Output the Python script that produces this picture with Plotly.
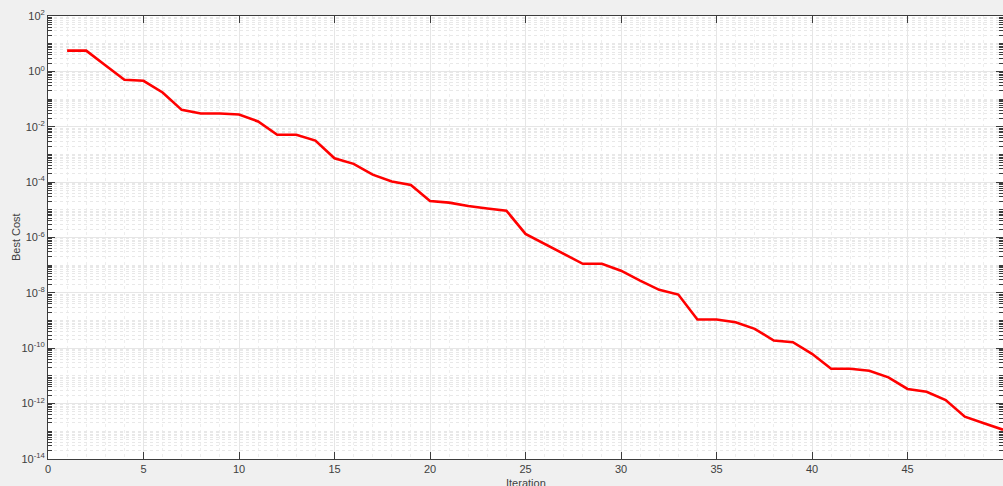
import plotly.graph_objects as go

iterations = list(range(1, 51))
log_best_cost = [
    0.75, 0.75, 0.22, -0.30, -0.34, -0.76, -1.39, -1.52, -1.52, -1.56,
    -1.81, -2.29, -2.29, -2.50, -3.14, -3.34, -3.73, -3.98, -4.10, -4.68,
    -4.74, -4.86, -4.95, -5.03, -5.87, -6.23, -6.56, -6.95, -6.95, -7.20,
    -7.56, -7.89, -8.06, -8.96, -8.96, -9.06, -9.30, -9.72, -9.78, -10.20,
    -10.74, -10.74, -10.81, -11.05, -11.47, -11.57, -11.87, -12.47, -12.71, -12.94,
]
best_cost = [10 ** v for v in log_best_cost]

x_tick_vals = [0, 5, 10, 15, 20, 25, 30, 35, 40, 45]
y_tick_exps = [2, 0, -2, -4, -6, -8, -10, -12, -14]

axis_color = "#3c3c3c"
font = dict(family="Liberation Sans, Arial, sans-serif", size=11, color="#404040")

fig = go.Figure()
fig.add_trace(go.Scatter(
    x=iterations, y=best_cost, mode="lines",
    line=dict(color="#ff0000", width=2.6),
    showlegend=False,
))

fig.update_layout(
    width=1003, height=486,
    margin=dict(l=48, r=0, t=16, b=27),
    paper_bgcolor="#f0f0f0",
    plot_bgcolor="#ffffff",
    font=font,
    xaxis=dict(
        range=[0, 50],
        tickvals=x_tick_vals,
        ticktext=[str(v) for v in x_tick_vals],
        ticks="inside", ticklen=7, tickcolor=axis_color,
        showline=True, linecolor=axis_color, linewidth=1, mirror="ticks",
        showgrid=True, gridcolor="#e6e6e6", gridwidth=1,
        minor=dict(dtick=1, showgrid=True, gridcolor="#eeeeee", griddash="dot"),
        zeroline=False,
        tickfont=font,
    ),
    yaxis=dict(
        type="log",
        range=[-14, 2],
        tickvals=[10 ** e for e in y_tick_exps],
        ticktext=["10<sup>%s</sup>" % (str(e) if e >= 0 else "-" + str(-e)) for e in y_tick_exps],
        ticks="inside", ticklen=7, tickcolor=axis_color,
        showline=True, linecolor=axis_color, linewidth=1, mirror="ticks",
        showgrid=True, gridcolor="#e6e6e6", gridwidth=1,
        minor=dict(dtick="D1", showgrid=True, gridcolor="#e8e8e8", griddash="dot",
                   ticks="inside", ticklen=4, tickcolor=axis_color),
        zeroline=False,
        tickfont=font,
    ),
    annotations=[
        dict(text="Iteration", xref="paper", yref="paper", x=0.5, y=-0.036,
             xanchor="center", yanchor="top", showarrow=False,
             font=dict(family=font["family"], size=11, color="#404040")),
        dict(text="Best Cost", xref="paper", yref="paper", x=-0.034, y=0.5,
             xanchor="center", yanchor="middle", showarrow=False, textangle=-90,
             font=dict(family=font["family"], size=11, color="#404040")),
    ],
)

fig.write_html(
    "out.html",
    config={"displayModeBar": False},
    post_script="document.body.style.margin='0';document.body.style.background='#f0f0f0';",
)
